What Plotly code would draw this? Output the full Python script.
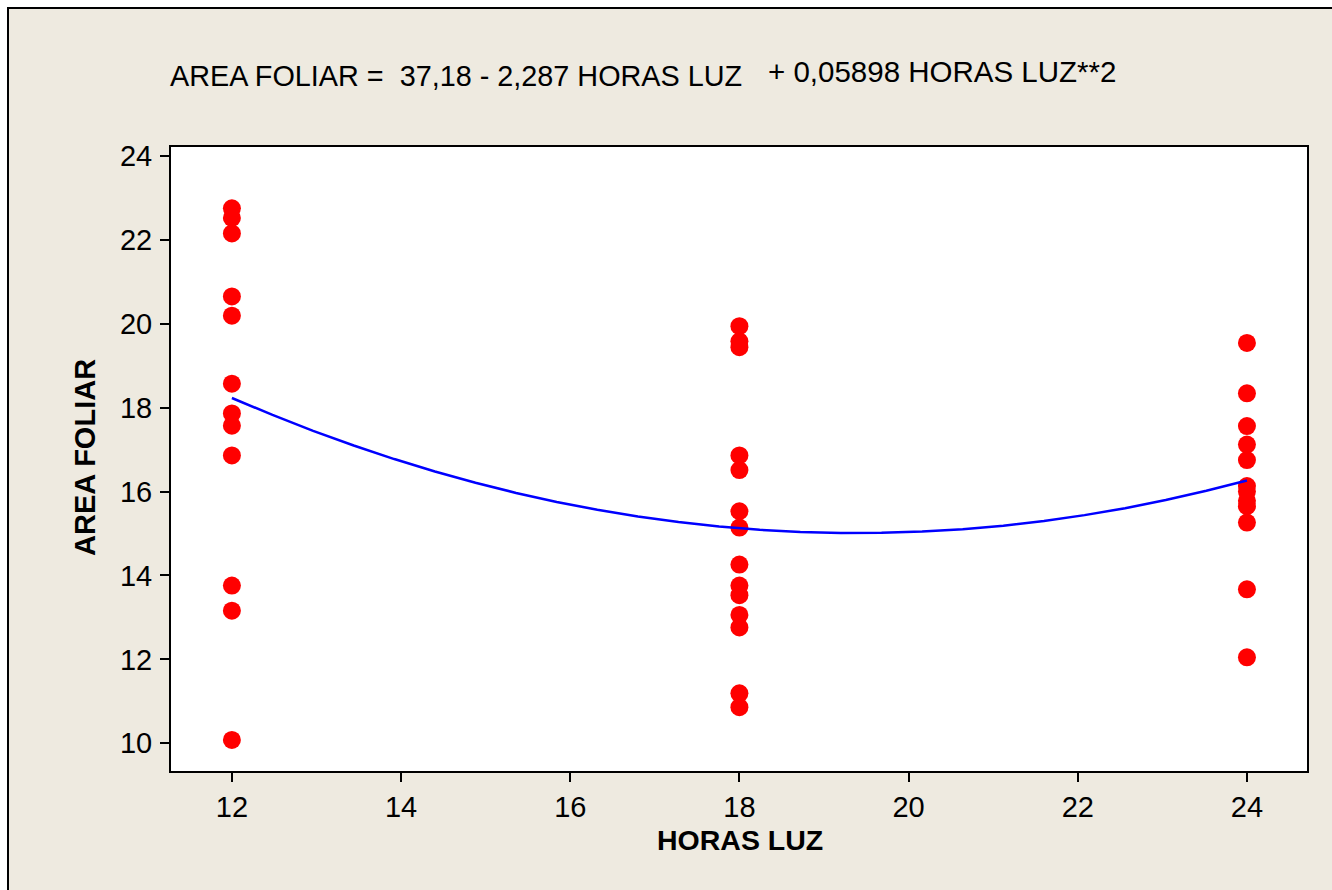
import plotly.graph_objects as go

# Observations: leaf area for each light-hours level
area_12h = [22.75, 22.52, 22.15, 20.65, 20.19, 18.57, 17.86, 17.57, 16.86, 13.76, 13.16, 10.08]
area_18h = [19.94, 19.58, 19.44, 16.86, 16.51, 15.53, 15.14, 14.26, 13.76, 13.53, 13.06, 12.76, 11.19, 10.86]
area_24h = [19.54, 18.34, 17.56, 17.12, 16.75, 16.13, 16.00, 15.78, 15.65, 15.26, 13.67, 12.05]

# Quadratic fit coefficients (intercept, linear, quadratic)
coef = [37.18, -2.287, 0.05898]
fit_x = [12.0, 12.48, 12.96, 13.44, 13.92, 14.4, 14.88, 15.36, 15.84, 16.32, 16.8,
         17.28, 17.76, 18.24, 18.72, 19.2, 19.68, 20.16, 20.64, 21.12, 21.6,
         22.08, 22.56, 23.04, 23.52, 24.0]

x_ticks = [12, 14, 16, 18, 20, 22, 24]
y_ticks = [10, 12, 14, 16, 18, 20, 22, 24]

horas = [12] * len(area_12h) + [18] * len(area_18h) + [24] * len(area_24h)
area = area_12h + area_18h + area_24h
fit_y = [coef[0] + coef[1] * h + coef[2] * h * h for h in fit_x]

W, H = 1332, 890
L, R, T, B = 171, 25, 147, 119
PW, PH = W - L - R, H - T - B

def px_x(p):
    return (p - L) / PW

def px_y(p):
    return (H - B - p) / PH

BG = "#EEEAE0"
FONT = "Liberation Sans, Arial, sans-serif"

fig = go.Figure()
fig.add_trace(go.Scatter(
    x=horas, y=area, mode="markers",
    marker=dict(color="#FF0000", size=18, line=dict(width=0)),
    showlegend=False,
))
fig.add_trace(go.Scatter(
    x=fit_x, y=fit_y, mode="lines",
    line=dict(color="#0000FF", width=2.5),
    showlegend=False,
))

axis_common = dict(
    showline=True, linewidth=2, linecolor="black", mirror=True,
    ticks="outside", ticklen=9, tickwidth=2, tickcolor="black",
    showgrid=False, zeroline=False,
    tickfont=dict(family=FONT, size=29, color="black"),
)

fig.update_xaxes(range=[11.28, 24.71], tickvals=x_ticks, **axis_common)
fig.update_yaxes(range=[9.34, 24.21], tickvals=y_ticks, ticklabelstandoff=2, **axis_common)

shapes = [
    # white strips outside the frame border
    dict(type="rect", xref="paper", yref="paper", x0=px_x(-5), x1=px_x(7),
         y0=px_y(900), y1=px_y(-5), fillcolor="white", line=dict(width=0)),
    dict(type="rect", xref="paper", yref="paper", x0=px_x(-5), x1=px_x(1340),
         y0=px_y(7), y1=px_y(-5), fillcolor="white", line=dict(width=0)),
    # frame border
    dict(type="line", xref="paper", yref="paper", x0=px_x(8), x1=px_x(8),
         y0=px_y(7), y1=px_y(900), line=dict(color="black", width=2)),
    dict(type="line", xref="paper", yref="paper", x0=px_x(7), x1=px_x(1340),
         y0=px_y(8), y1=px_y(8), line=dict(color="black", width=2)),
]

annotations = [
    dict(text="AREA FOLIAR =  37,18 - 2,287 HORAS LUZ", x=px_x(168), y=px_y(76),
         xref="paper", yref="paper", xanchor="left", yanchor="middle", showarrow=False,
         font=dict(family=FONT, size=28.8, color="black")),
    dict(text="+ 0,05898 HORAS LUZ**2", x=px_x(766), y=px_y(72),
         xref="paper", yref="paper", xanchor="left", yanchor="middle", showarrow=False,
         font=dict(family=FONT, size=29.5, color="black")),
    dict(text="<b>HORAS LUZ</b>", x=px_x(740), y=px_y(840),
         xref="paper", yref="paper", xanchor="center", yanchor="middle", showarrow=False,
         font=dict(family=FONT, size=28.5, color="black")),
    dict(text="<b>AREA FOLIAR</b>", x=px_x(85), y=px_y(458), textangle=-90,
         xref="paper", yref="paper", xanchor="center", yanchor="middle", showarrow=False,
         font=dict(family=FONT, size=29, color="black")),
]

fig.update_layout(
    width=W, height=H,
    margin=dict(l=L, r=R, t=T, b=B, pad=0),
    paper_bgcolor=BG, plot_bgcolor="white",
    shapes=shapes, annotations=annotations,
    showlegend=False,
)

fig.write_html("out.html")
